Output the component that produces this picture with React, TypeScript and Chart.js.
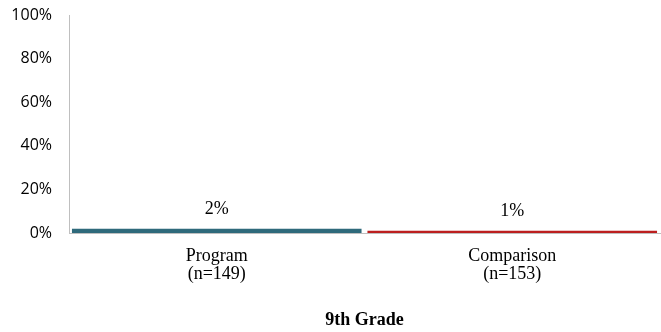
import React, { useEffect, useRef } from "react";
import { Chart, registerables } from "chart.js";

Chart.register(...registerables);

// Share of students in each group, 9th grade
const groups: string[][] = [["Program", "(n=149)"], ["Comparison", "(n=153)"]];
const percents: number[] = [2, 1];
const barColors: string[] = ["#2F6A7B", "#BC1F1F"];
const yTicks: number[] = [0, 20, 40, 60, 80, 100];
const axisTitle = "9th Grade";

const serif = "'Liberation Serif', 'Times New Roman', serif";
const sans = "'Open Sans', 'Liberation Sans', sans-serif";

// Prints the percentage above each bar
const valueLabels = {
  id: "valueLabels",
  afterDatasetsDraw(chart: Chart) {
    const { ctx } = chart;
    const meta = chart.getDatasetMeta(0);
    ctx.save();
    ctx.font = `18px ${serif}`;
    ctx.fillStyle = "#000";
    ctx.textAlign = "center";
    ctx.textBaseline = "alphabetic";
    meta.data.forEach((bar: any, i: number) => {
      const v = chart.data.datasets[0].data[i] as number;
      ctx.fillText(`${v}%`, bar.x, bar.y - 15);
    });
    ctx.restore();
  },
};

export default function App() {
  const canvasRef = useRef<HTMLCanvasElement | null>(null);

  useEffect(() => {
    if (!canvasRef.current) return;
    const chart = new Chart(canvasRef.current, {
      type: "bar",
      data: {
        labels: groups,
        datasets: [
          {
            data: percents,
            backgroundColor: barColors,
            borderWidth: 0,
            barPercentage: 0.98,
            categoryPercentage: 1,
          },
        ],
      },
      options: {
        animation: false,
        responsive: false,
        maintainAspectRatio: false,
        layout: { padding: { top: 15, right: 1, left: 0, bottom: 0 } },
        plugins: {
          legend: { display: false },
          tooltip: { enabled: false },
        },
        scales: {
          x: {
            grid: { display: false, drawTicks: false },
            border: { display: true, color: "#BFBFBF", width: 1 },
            ticks: {
              color: "#000",
              padding: 14,
              maxRotation: 0,
              font: { family: serif, size: 18, lineHeight: 1.0 },
            },
            title: {
              display: true,
              text: axisTitle,
              color: "#000",
              font: { family: serif, size: 18, weight: "bold", lineHeight: 1.0 },
              padding: { top: 14, bottom: 3 },
            },
          },
          y: {
            min: 0,
            max: 100,
            afterFit(scale: any) {
              scale.width = 69;
              scale.paddingTop = 0;
              scale.paddingBottom = 0;
            },
            afterBuildTicks(scale: any) {
              scale.ticks = yTicks.map((v) => ({ value: v }));
            },
            grid: { display: false, drawTicks: false },
            border: { display: true, color: "#BFBFBF", width: 1 },
            ticks: {
              color: "#000",
              padding: 17,
              font: { family: sans, size: 16 },
              callback: (v: any) => `${v}%`,
            },
          },
        },
      },
      plugins: [valueLabels],
    });
    return () => chart.destroy();
  }, []);

  return (
    <div style={{ position: "fixed", left: 0, top: 0, width: 661, height: 332, background: "#fff" }}>
      <canvas ref={canvasRef} width={661} height={332} />
    </div>
  );
}
